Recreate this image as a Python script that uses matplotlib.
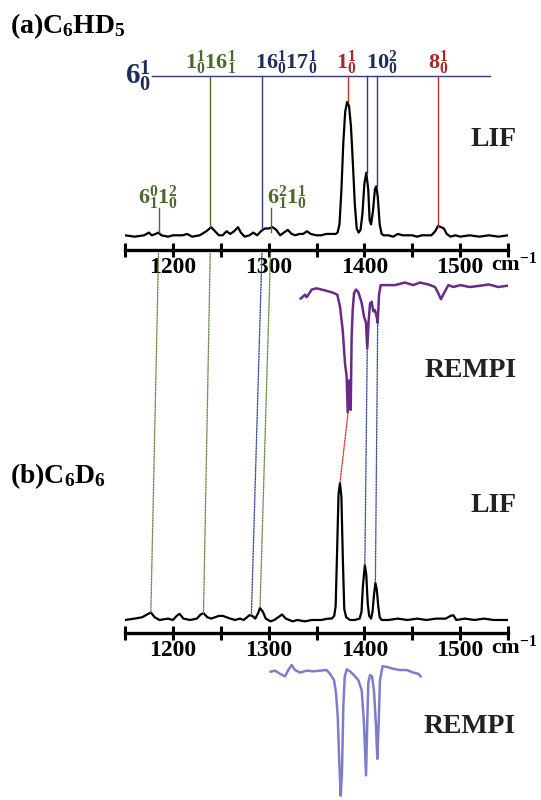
import numpy as np
import matplotlib
matplotlib.use('Agg')
import matplotlib.pyplot as plt
from matplotlib.patches import ConnectionPatch

plt.rcParams['font.family'] = 'Liberation Serif'
plt.rcParams['font.weight'] = 'bold'
plt.rcParams['mathtext.fontset'] = 'custom'
plt.rcParams['mathtext.rm'] = 'Liberation Serif:bold'
plt.rcParams['mathtext.bf'] = 'Liberation Serif:bold'
plt.rcParams['mathtext.it'] = 'Liberation Serif:bold'
plt.rcParams['mathtext.default'] = 'bf'

# --- data (cm-1, relative intensity) ---
lif_a_x = [1150, 1160, 1170, 1175, 1178, 1182, 1185, 1188, 1195, 1200, 1210, 1215,
           1220, 1228, 1235, 1240, 1244, 1248, 1252, 1256, 1260, 1264, 1268, 1271,
           1275, 1280, 1284, 1288, 1292, 1296, 1300, 1304, 1308, 1312, 1316, 1320,
           1324, 1328, 1332, 1336, 1340, 1344, 1350, 1355, 1360, 1365, 1370, 1372,
           1374, 1376, 1378, 1380, 1382, 1384, 1386, 1388, 1390, 1392, 1394, 1396,
           1398, 1400, 1402, 1404, 1405.5, 1407, 1409, 1411, 1412.5, 1414, 1416,
           1418, 1420, 1425, 1430, 1435, 1440, 1445, 1450, 1455, 1460, 1465, 1470,
           1474, 1477, 1480, 1483, 1486, 1490, 1495, 1500, 1510, 1520, 1530, 1540,
           1550]
lif_a_y = [0.02, 0.01, 0.02, 0.04, 0.02, 0.03, 0.04, 0.02, 0.01, 0.02, 0.02, 0.03,
           0.01, 0.02, 0.05, 0.08, 0.05, 0.02, 0.02, 0.05, 0.03, 0.05, 0.08, 0.04,
           0.01, 0.02, 0.04, 0.02, 0.05, 0.07, 0.07, 0.08, 0.06, 0.02, 0.04, 0.06,
           0.03, 0.02, 0.03, 0.03, 0.05, 0.03, 0.02, 0.02, 0.03, 0.03, 0.03, 0.04,
           0.10, 0.35, 0.70, 0.93, 1.00, 0.97, 0.82, 0.55, 0.25, 0.07, 0.04, 0.06,
           0.18, 0.40, 0.48, 0.36, 0.13, 0.10, 0.20, 0.36, 0.38, 0.30, 0.10,
           0.03, 0.02, 0.02, 0.01, 0.03, 0.02, 0.02, 0.02, 0.01, 0.02, 0.02, 0.02,
           0.05, 0.09, 0.08, 0.07, 0.03, 0.01, 0.02, 0.01, 0.02, 0.01, 0.02, 0.01,
           0.02]

rempi_a_x = [1333.5, 1338, 1339.7, 1345, 1350, 1360.6, 1367.5, 1371.7, 1374.5, 1377.4,
             1379.8, 1381.5, 1382.6, 1384.3, 1385.7, 1386.7, 1387.8, 1389.2, 1391.2,
             1393.7, 1397.2, 1399.6, 1401.7, 1403, 1404.5, 1405.9, 1407.6, 1409.3,
             1411, 1412.8, 1413.9, 1415.3, 1417, 1423.3, 1432, 1442.4, 1451, 1458,
             1466.8, 1473.8, 1477.3, 1480, 1483, 1487.7, 1493, 1500, 1510, 1521,
             1530, 1540, 1549]
rempi_a_y = [-0.09, -0.06, -0.08, -0.02, -0.01, -0.03, -0.045, -0.06, -0.15, -0.34,
             -0.60, -0.70, -0.98, -0.73, -0.96, -0.39, -0.18, -0.05, -0.02,
             -0.04, -0.125, -0.23, -0.28, -0.48, -0.26, -0.13, -0.115, -0.19,
             -0.18, -0.23, -0.28, -0.06, 0.015, 0.015, 0.015, 0.035, 0.015, 0.035,
             0.02, 0.0, -0.05, -0.095, -0.05, 0.015, 0.0, 0.015, 0.0, 0.01,
             0.02, 0.0, 0.01]

lif_b_x = [1150, 1160, 1168, 1173, 1177, 1181, 1186, 1195, 1200, 1204, 1207, 1211,
           1218, 1225, 1229, 1232, 1236, 1240, 1244, 1248, 1252, 1256, 1260, 1265,
           1270, 1274, 1280, 1283, 1286, 1289, 1291, 1294, 1297, 1302, 1306, 1310,
           1314, 1318, 1325, 1330, 1338, 1345, 1355, 1362, 1366, 1368.5, 1370,
           1371.5, 1373, 1374.5, 1376, 1377.5, 1379, 1381, 1385, 1390, 1395, 1397,
           1398.5, 1400.5, 1402, 1403.5, 1405, 1407, 1408.5, 1410, 1411.5, 1413,
           1414.5, 1416, 1418, 1425, 1435, 1445, 1455, 1465, 1475, 1485, 1490, 1493,
           1496, 1505, 1515, 1525, 1535, 1545, 1550]
lif_b_y = [0.0, 0.01, 0.02, 0.04, 0.055, 0.02, 0.0, 0.01, 0.0, 0.03, 0.045, 0.01,
           0.0, 0.01, 0.04, 0.05, 0.02, 0.01, 0.02, 0.03, 0.03, 0.02, 0.01, 0.0,
           0.01, 0.0, 0.035, 0.03, 0.01, 0.05, 0.088, 0.06, 0.01, -0.01, 0.0, 0.02,
           0.04, 0.01, -0.01, 0.0, -0.01, 0.0, 0.0, 0.01, 0.01, 0.03, 0.10,
           0.50, 0.92, 1.00, 0.90, 0.45, 0.08, 0.02, 0.0, 0.0, 0.01, 0.06,
           0.25, 0.40, 0.33, 0.12, 0.03, 0.01, 0.06, 0.18, 0.27, 0.22,
           0.10, 0.02, 0.0, 0.0, 0.01, 0.0, 0.01, 0.0, 0.01, 0.01, 0.03, 0.035,
           0.0, 0.01, 0.0, 0.01, 0.0, 0.0, 0.0]

rempi_b_x = [1302.1, 1306.7, 1311.9, 1317.1, 1320.6, 1324, 1327.5, 1332.8, 1339.7,
             1346.7, 1353.7, 1360.6, 1364.1, 1368.3, 1370.4, 1372.2, 1373.8, 1375.3,
             1376.6, 1378, 1379.5, 1381.6, 1385, 1390.2, 1393.7, 1397.2, 1399.6,
             1401.7, 1403, 1404.1, 1405.9, 1408, 1410, 1412.2, 1413.5, 1414.9,
             1416.3, 1419, 1423.3, 1430.2, 1437.2, 1444.2, 1451, 1456.3, 1458.8]
rempi_b_y = [-0.013, -0.005, -0.03, -0.05, 0.0, 0.04, 0.0, -0.02, -0.005,
             -0.01, -0.005, 0.0, -0.03, -0.08, -0.18, -0.37, -0.73, -0.99,
             -0.81, -0.29, -0.05, 0.005, -0.01, -0.05, -0.08, -0.16, -0.42,
             -0.83, -0.42, -0.10, -0.04, -0.05, -0.16, -0.45, -0.70, -0.42,
             -0.08, 0.03, 0.025, 0.01, 0.0, 0.0, -0.02, -0.03, -0.05]

# assignment sticks on the 6_0^1 progression line (a)
stick_pos = [1239, 1293, 1383, 1403, 1413, 1477]
stick_top = [0.08, 0.06, 1.0, 0.48, 0.38, 0.09]
stick_kind = ['g', 'b', 'r', 'b', 'b', 'r']
prog_span = [1178, 1531]
labels_top = [r'$1^1_0 16^1_1$', r'$16^1_0 17^1_0$', r'$1^1_0$', r'$10^2_0$', r'$8^1_0$']
labels_top_x = [1239, 1318, 1381, 1418, 1477]
labels_top_kind = ['g', 'b', 'r', 'b', 'r']

# hot-band sticks (a)
hot_pos = [1185, 1302]
hot_range = [0.045, 0.22]
hot_labels = [r'$6^0_1 1^2_0$', r'$6^2_1 1^1_0$']
hot_label_x = [1185, 1319]

# dotted correlation lines (a) axis -> (b) LIF
corr_a = [1185, 1239, 1293, 1302]
corr_b = [1177, 1232, 1282, 1291]
corr_b_h = [0.055, 0.05, 0.035, 0.088]
corr_kind = ['g', 'g', 'b', 'g']
# (a) REMPI dip -> (b) LIF peak
corr2_a = [1383, 1403, 1413.9]
corr2_a_h = [-0.98, -0.48, -0.28]
corr2_b = [1374.5, 1400.5, 1411.5]
corr2_b_h = [1.0, 0.40, 0.27]
corr2_kind = ['r', 'b', 'b']

line_col = {'g': '#4f6b34', 'b': '#2c3d78', 'r': '#b43333'}
text_col = {'g': '#4a6a2a', 'b': '#1b2d5c', 'r': '#a82828'}
dot_col = {'g': '#6b8a4e', 'b': '#3a4f95', 'r': '#d83a3a'}

W, H = 541, 800
fig = plt.figure(figsize=(W / 100, H / 100), dpi=100)


def box(x0, y_top, x1, y_bot):
    # pixel box -> figure fraction rect
    return [x0 / W, 1 - y_bot / H, (x1 - x0) / W, (y_bot - y_top) / H]


def fpx(x, y):
    return x / W, 1 - y / H


ticks = np.arange(1150, 1551, 50)
ticklabels = [str(t) if t % 100 == 0 else '' for t in ticks]


def style_axis(ax):
    for s in ['top', 'left', 'right']:
        ax.spines[s].set_visible(False)
    ax.spines['bottom'].set_linewidth(2.4)
    ax.set_yticks([])
    ax.set_xticks(ticks)
    ax.set_xticklabels(ticklabels, fontsize=17, fontweight='bold')
    ax.tick_params(axis='x', direction='inout', length=10, width=2.2, pad=0)
    ax.set_xlim(1150, 1550)
    ax.patch.set_alpha(0)


ax_a = fig.add_axes(box(125, 76, 508, 250))
ax_ar = fig.add_axes(box(125, 270, 508, 430))
ax_b = fig.add_axes(box(125, 470, 508, 633))
ax_br = fig.add_axes(box(125, 660, 508, 800))

# (a) LIF
style_axis(ax_a)
ax_a.set_ylim(-0.088, 1.191)
ax_a.plot(lif_a_x, lif_a_y, color='black', lw=1.6)
top = ax_a.get_ylim()[1]
ax_a.plot(prog_span, [top, top], color='#2c3d78', lw=1.0, clip_on=False)
for x, h, k in zip(stick_pos, stick_top, stick_kind):
    ax_a.plot([x, x], [h, top], color=line_col[k], lw=1.0, clip_on=False)
for s, x, k in zip(labels_top, labels_top_x, labels_top_kind):
    ax_a.text(x, top + 0.055, s, color=text_col[k], fontsize=16, ha='center',
              va='baseline', clip_on=False)
ax_a.text(prog_span[0] - 1, top - 0.06, r'$6^1_0$', color=text_col['b'], fontsize=21,
          ha='right', va='baseline', clip_on=False)
for x, s, lx in zip(hot_pos, hot_labels, hot_label_x):
    ax_a.plot([x, x], hot_range, color=line_col['g'], lw=1.0)
    ax_a.text(lx, hot_range[1] + 0.03, s, color=text_col['g'], fontsize=16,
              ha='center', va='baseline')

# (a) REMPI
ax_ar.set_xlim(1150, 1550)
ax_ar.set_ylim(-1.117, 0.133)
ax_ar.axis('off')
ax_ar.plot(rempi_a_x, rempi_a_y, color='#6a2a86', lw=1.8)

# (b) LIF
style_axis(ax_b)
ax_b.set_ylim(-0.095, 1.095)
ax_b.plot(lif_b_x, lif_b_y, color='black', lw=1.6)

# (b) REMPI
ax_br.set_xlim(1150, 1550)
ax_br.set_ylim(-1.024, 0.079)
ax_br.axis('off')
ax_br.plot(rempi_b_x, rempi_b_y, color='#7e7ec8', lw=1.8, clip_on=False)

# dotted correlation lines
for xa, xb, hb, k in zip(corr_a, corr_b, corr_b_h, corr_kind):
    con = ConnectionPatch(xyA=(xa, -0.02), coordsA=ax_a.get_xaxis_transform(),
                          xyB=(xb, hb), coordsB=ax_b.transData,
                          color=dot_col[k], lw=1.0, linestyle=(0, (1, 1)))
    fig.add_artist(con)
for xa, ha_, xb, hb, k in zip(corr2_a, corr2_a_h, corr2_b, corr2_b_h, corr2_kind):
    con = ConnectionPatch(xyA=(xa, ha_), coordsA=ax_ar.transData,
                          xyB=(xb, hb), coordsB=ax_b.transData,
                          color=dot_col[k], lw=1.0, linestyle=(0, (1, 1)))
    fig.add_artist(con)

# units next to the 1500 tick labels
fig.text(*fpx(491, 271), 'cm$^{\\mathrm{-1}}$', fontsize=16, va='baseline')
fig.text(*fpx(491, 654), 'cm$^{\\mathrm{-1}}$', fontsize=16, va='baseline')

# panel titles and labels
fig.text(*fpx(10, 33), r'(a)C$_\mathbf{6}$HD$_\mathbf{5}$', fontsize=20, va='baseline')
fig.text(*fpx(10, 483), r'(b)C$_\mathbf{6}$D$_\mathbf{6}$', fontsize=20, va='baseline')
fig.text(*fpx(494, 146), 'LIF', fontsize=20, ha='center', va='baseline', color='#222222')
fig.text(*fpx(494, 512), 'LIF', fontsize=20, ha='center', va='baseline', color='#222222')
fig.text(*fpx(471, 377), 'REMPI', fontsize=20, ha='center', va='baseline', color='#222222')
fig.text(*fpx(470, 733), 'REMPI', fontsize=20, ha='center', va='baseline', color='#222222')

fig.savefig('out.png', dpi=100)
